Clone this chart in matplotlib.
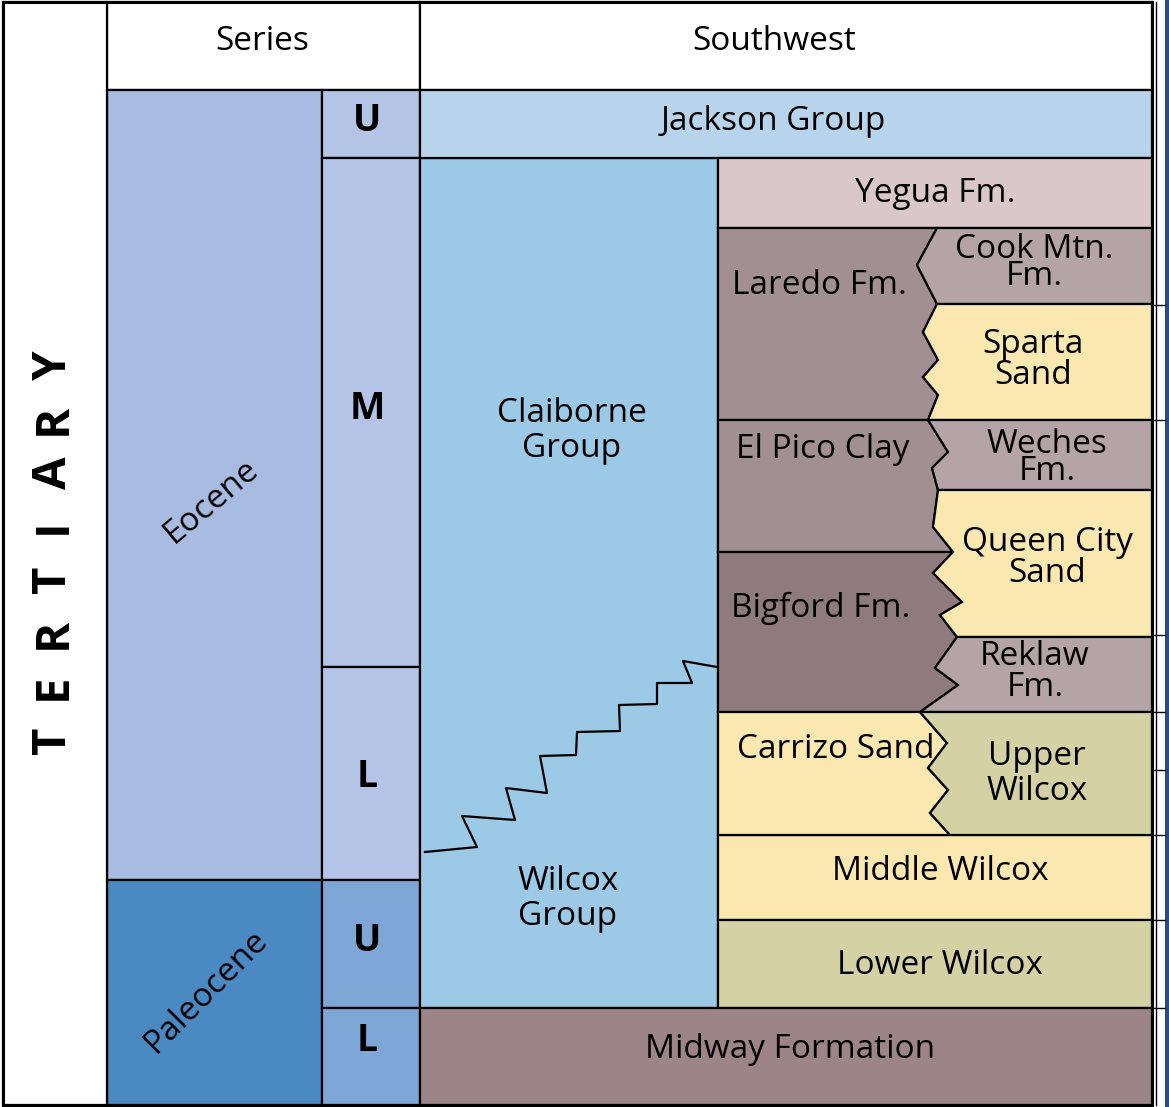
import numpy as np
import matplotlib.pyplot as plt
from matplotlib.patches import Polygon, Rectangle

plt.rcParams['font.family'] = ['Open Sans', 'DejaVu Sans']

# --- data (drawing units, y grows downwards) ---
series_names = ['Eocene', 'Paleocene']
series_top = [90, 880]
series_base = [880, 1105]

sub_names = ['U', 'M', 'L', 'U', 'L']
sub_top = [90, 158, 667, 880, 1008]
sub_base = [158, 667, 880, 1008, 1105]

# units spanning the whole southwest column / the formation column
wide_names = ['Jackson Group', 'Yegua Fm.', 'Middle Wilcox', 'Lower Wilcox', 'Midway Formation']
wide_top = [90, 158, 835, 920, 1008]
wide_base = [158, 228, 920, 1008, 1105]

# interfingering units, left (shale) side and right side
left_names = ['Laredo Fm.', 'El Pico Clay', 'Bigford Fm.', 'Carrizo Sand']
left_top = [228, 420, 552, 712]
left_base = [420, 552, 712, 835]

right_names = ['Cook Mtn.\nFm.', 'Sparta\nSand', 'Weches\nFm.', 'Queen City\nSand', 'Reklaw\nFm.', 'Upper\nWilcox']
right_top = [228, 304, 420, 490, 637, 712]
right_base = [304, 420, 490, 637, 712, 835]

group_names = ['Claiborne\nGroup', 'Wilcox\nGroup']
group_top = 158
group_base = 1008

# interfingering contact between left and right units
zig_x = [937, 917, 937, 923, 938, 923, 938, 928, 948, 932, 938, 933, 953, 933, 962, 940, 957,
         935, 958, 920, 947, 928, 948, 930, 950]
zig_y = [228, 265, 304, 332, 360, 377, 395, 420, 452, 468, 490, 527, 552, 573, 602, 615, 637,
         668, 685, 712, 743, 768, 790, 813, 835]

# Claiborne / Wilcox stepped contact
step_x = [425, 477, 462, 515, 506, 547, 540, 576, 577, 620, 619, 657, 657, 692, 683, 717]
step_y = [852, 847, 816, 820, 788, 793, 756, 755, 732, 731, 705, 704, 683, 683, 661, 667]

# --- colours ---
c_eocene = '#a8bbe0'
c_eoc_sub = '#b3c4e6'
c_paleo = '#4b89c2'
c_paleo_sub = '#7ea6d6'
c_jackson = '#b7d4ec'
c_group = '#9cc9e6'
c_shale = '#a28f92'
c_shale2 = '#8f7b7e'
c_grey = '#b4a3a7'
c_sand = '#fbe8b0'
c_olive = '#d4d2a5'
c_yegua = '#d9c7c9'
c_midway = '#9c8487'

sub_colors = [c_eoc_sub, c_eoc_sub, c_eoc_sub, c_paleo_sub, c_paleo_sub]
series_colors = [c_eocene, c_paleo]
wide_colors = [c_jackson, c_yegua, c_sand, c_olive, c_midway]
left_colors = [c_shale, c_shale, c_shale2, c_sand]
right_colors = [c_grey, c_sand, c_grey, c_sand, c_grey, c_olive]

# column edges
x_left, x_tert, x_sub, x_sw, x_form, x_right = 3, 107, 322, 420, 718, 1152
lw = 1.6
fs = 24

fig = plt.figure(figsize=(11.69, 11.07), dpi=100)
ax = fig.add_axes([0, 0, 1, 1])
ax.set_xlim(0, 1169)
ax.set_ylim(1107, 0)
ax.axis('off')

def box(x0, x1, y0, y1, color):
    ax.add_patch(Rectangle((x0, y0), x1 - x0, y1 - y0, facecolor=color, edgecolor='black', lw=lw))

# header
box(x_tert, x_sw, 2, 90, 'white')
box(x_sw, x_right, 2, 90, 'white')
ax.text(262, 42, 'Series', ha='center', va='center', fontsize=fs)
ax.text(774, 42, 'Southwest', ha='center', va='center', fontsize=fs)

# series
for name, t, b, c in zip(series_names, series_top, series_base, series_colors):
    box(x_tert, x_sub, t, b, c)
ax.text(211, 501, series_names[0], rotation=40, ha='center', va='center', fontsize=fs)
ax.text(206, 991, series_names[1], rotation=45, ha='center', va='center', fontsize=fs)

for name, t, b, c in zip(sub_names, sub_top, sub_base, sub_colors):
    box(x_sub, x_sw, t, b, c)
sub_label_y = [121, 409, 777, 941, 1041]
for name, y in zip(sub_names, sub_label_y):
    ax.text((x_sub + x_sw) / 2 - 4, y, name, ha='center', va='center', fontsize=27, fontweight='bold')

# Claiborne / Wilcox groups
box(x_sw, x_form, group_top, group_base, c_group)
ax.plot(step_x, step_y, color='black', lw=lw)
ax.text(572, 431, group_names[0], ha='center', va='center', fontsize=fs, linespacing=1.1)
ax.text(568, 899, group_names[1], ha='center', va='center', fontsize=fs, linespacing=1.1)

# wide units
wide_x0 = [x_sw, x_form, x_form, x_form, x_sw]
wide_lab = [(773, 121), (935, 193), (940, 872), (940, 965), (790, 1049)]
for name, t, b, c, x0, (lx, ly) in zip(wide_names, wide_top, wide_base, wide_colors, wide_x0, wide_lab):
    box(x0, x_right, t, b, c)
    ax.text(lx, ly, name, ha='center', va='center', fontsize=fs)

# interfingering units
zx = np.array(zig_x)
zy = np.array(zig_y)
for name, t, b, c in zip(left_names, left_top, left_base, left_colors):
    m = (zy >= t) & (zy <= b)
    pts = [(x_form, t)] + list(zip(zx[m], zy[m])) + [(x_form, b)]
    ax.add_patch(Polygon(pts, closed=True, facecolor=c, edgecolor='black', lw=lw))
for name, t, b, c in zip(right_names, right_top, right_base, right_colors):
    m = (zy >= t) & (zy <= b)
    pts = list(zip(zx[m], zy[m])) + [(x_right, b), (x_right, t)]
    ax.add_patch(Polygon(pts, closed=True, facecolor=c, edgecolor='black', lw=lw))

left_lab = [(819, 286), (823, 450), (821, 608), (836, 749)]
for name, (lx, ly) in zip(left_names, left_lab):
    ax.text(lx, ly, name, ha='center', va='center', fontsize=fs)
right_lab = [(1034, 263), (1033, 360), (1047, 458), (1047, 558), (1035, 672), (1037, 774)]
right_ls = [0.75, 0.95, 0.75, 0.95, 0.95, 1.05]
for name, (lx, ly), ls in zip(right_names, right_lab, right_ls):
    ax.text(lx, ly, name, ha='center', va='center', fontsize=fs, linespacing=ls)

# TERTIARY column
box(x_left, x_tert, 2, 1105, 'white')
for i, ch in enumerate('TERTIARY'):
    ax.text(53, 740 - i * 53.5, ch, rotation=90, ha='center', va='center', fontsize=34, fontweight='bold')

# outer frame
ax.add_patch(Rectangle((x_left, 2), x_right - x_left, 1103, fill=False, edgecolor='black', lw=2.2))

# clipped neighbouring column on the right
for y in [305, 420, 635, 712, 770, 835, 920, 1008]:
    ax.plot([x_right, 1165], [y, y], color='black', lw=1)
ax.plot([1156, 1156], [2, 1105], color='black', lw=1)
ax.add_patch(Rectangle((1165, 0), 4, 1107, facecolor='#2c4a7c', edgecolor='none'))

plt.savefig('out.png', dpi=100)
